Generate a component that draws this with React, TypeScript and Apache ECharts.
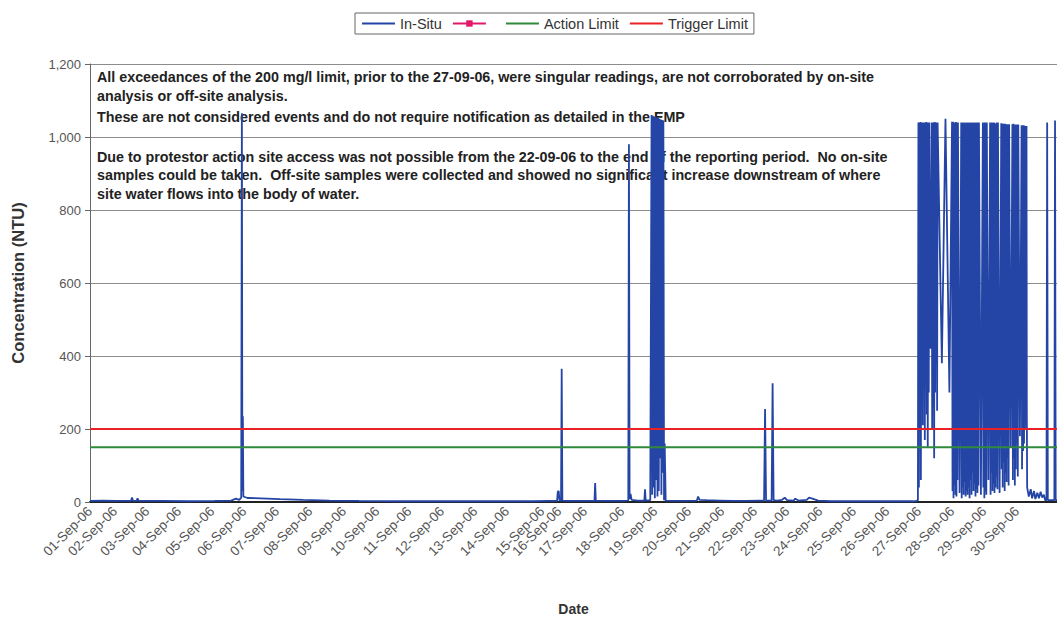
import React, { useEffect, useRef } from 'react';
import * as echarts from 'echarts';

const dateLabels = [
  '01-Sep-06', '02-Sep-06', '03-Sep-06', '04-Sep-06', '05-Sep-06', '06-Sep-06',
  '07-Sep-06', '08-Sep-06', '09-Sep-06', '10-Sep-06', '11-Sep-06', '12-Sep-06',
  '13-Sep-06', '14-Sep-06', '15-Sep-06', '16-Sep-06', '17-Sep-06', '18-Sep-06',
  '19-Sep-06', '20-Sep-06', '21-Sep-06', '22-Sep-06', '23-Sep-06', '24-Sep-06',
  '25-Sep-06', '26-Sep-06', '27-Sep-06', '28-Sep-06', '29-Sep-06', '30-Sep-06',
];

// category positions of the date labels along the sample axis (days, irregular)
const labelPositions = [
  0, 0.76, 1.74, 2.71, 3.72, 4.7, 5.7, 6.71, 7.74, 8.75, 9.73, 10.73, 11.74, 12.71,
  13.78, 14.3, 15.09, 16.22, 17.23, 18.26, 19.27, 20.27, 21.25, 22.26, 23.29,
  24.3, 25.27, 26.28, 27.26, 28.26,
];

const xMax = 29.48;

const inSitu: [number, number][] = [
  [0, 3], [0.4, 4], [0.8, 3], [1.25, 3], [1.28, 12], [1.31, 4], [1.42, 3], [1.45, 10], [1.48, 3],
  [2.2, 3], [3.0, 2], [3.8, 3], [4.3, 4], [4.45, 9], [4.55, 6], [4.61, 12], [4.63, 1065],
  [4.645, 30], [4.66, 235], [4.675, 15], [4.8, 11], [5.2, 10], [5.8, 8], [6.5, 6], [7.3, 4],
  [8.2, 3], [9.5, 2], [11, 2], [12.5, 2], [13.5, 2], [14.0, 3],
  [14.24, 3], [14.26, 28], [14.29, 30], [14.31, 5], [14.36, 4], [14.38, 365], [14.4, 4],
  [14.6, 3], [15.0, 3], [15.38, 3], [15.4, 52], [15.42, 3], [16.0, 3], [16.41, 4], [16.43, 980],
  [16.45, 8], [16.48, 22], [16.51, 6], [16.7, 4], [16.9, 4], [16.92, 35], [16.94, 4], [17.08, 5],
  [17.1, 5], [17.12, 1060], [17.14, 20], [17.16, 1058], [17.18, 40], [17.2, 1056], [17.22, 10],
  [17.24, 1055], [17.26, 60], [17.28, 1053], [17.3, 15], [17.32, 1052], [17.34, 30], [17.36, 1050],
  [17.38, 120], [17.4, 1048], [17.42, 20], [17.44, 1046], [17.46, 80], [17.48, 1045], [17.5, 5],
  [17.52, 160], [17.55, 4], [18.0, 3], [18.5, 4], [18.54, 15], [18.58, 6], [18.8, 5], [19.2, 4],
  [19.6, 3], [20.0, 3], [20.4, 4], [20.55, 4], [20.58, 255], [20.61, 4], [20.78, 4], [20.81, 325],
  [20.84, 5], [20.95, 4], [21.1, 6], [21.18, 12], [21.25, 5], [21.45, 4], [21.5, 9], [21.6, 4],
  [21.85, 6], [21.92, 12], [22.0, 10], [22.2, 4], [22.6, 2], [23.5, 2], [24.5, 2], [25.1, 2],
  [25.2, 3],
  [25.24, 5], [25.255, 1040], [25.27, 40], [25.285, 1040], [25.3, 300], [25.315, 1041], [25.33, 60],
  [25.345, 1040], [25.36, 460], [25.375, 1040], [25.39, 210], [25.405, 1040], [25.42, 380],
  [25.435, 1040], [25.45, 170], [25.465, 1040], [25.48, 330], [25.495, 1041], [25.51, 240],
  [25.525, 1040], [25.54, 150], [25.555, 1040], [25.57, 300], [25.585, 1040], [25.62, 420],
  [25.66, 1040], [25.675, 200], [25.69, 1040], [25.705, 260], [25.72, 1040], [25.735, 120],
  [25.75, 1041], [25.765, 300], [25.78, 1040], [25.795, 380], [25.81, 1040], [25.825, 250],
  [25.84, 1040], [25.86, 1040], [25.97, 380], [26.08, 1050], [26.1, 1050], [26.2, 300],
  [26.28, 1042], [26.295, 30], [26.31, 1042], [26.325, 10], [26.34, 1040], [26.355, 45],
  [26.37, 1040], [26.385, 20], [26.4, 1041], [26.415, 15], [26.43, 1040], [26.445, 60],
  [26.46, 1040], [26.51, 25], [26.56, 1040], [26.575, 10], [26.59, 1039], [26.605, 40],
  [26.62, 1040], [26.635, 20], [26.65, 1040], [26.665, 55], [26.68, 1038], [26.695, 15],
  [26.71, 1040], [26.725, 30], [26.74, 1040], [26.755, 20], [26.77, 1040], [26.785, 40],
  [26.8, 1038], [26.815, 10], [26.83, 1040], [26.845, 60], [26.86, 1040], [26.875, 20],
  [26.89, 1039], [26.905, 80], [26.92, 1040], [26.935, 30], [26.95, 1038], [26.965, 50],
  [26.98, 1040], [26.995, 15], [27.01, 1040], [27.025, 35], [27.04, 1040], [27.055, 25],
  [27.07, 1039], [27.085, 45], [27.1, 1040], [27.16, 20], [27.22, 1040], [27.235, 40],
  [27.25, 1038], [27.265, 10], [27.28, 1040], [27.295, 30], [27.31, 1040], [27.325, 20],
  [27.34, 1040], [27.39, 60], [27.44, 1040], [27.455, 20], [27.47, 1039], [27.485, 80],
  [27.5, 1040], [27.515, 30], [27.53, 1038], [27.545, 50], [27.56, 1040], [27.575, 25],
  [27.59, 1038], [27.605, 40], [27.62, 1037], [27.635, 70], [27.65, 1040], [27.665, 35],
  [27.68, 1040], [27.73, 25], [27.78, 1038], [27.795, 90], [27.81, 1037], [27.825, 40],
  [27.84, 1036], [27.855, 110], [27.87, 1036], [27.885, 30], [27.9, 1036], [27.915, 80],
  [27.93, 1035], [27.945, 55], [27.96, 1035], [27.975, 120], [27.99, 1035], [28.005, 45],
  [28.02, 1035], [28.07, 150], [28.12, 1035], [28.135, 60], [28.15, 1036], [28.165, 120],
  [28.18, 1034], [28.195, 45], [28.21, 1034], [28.225, 90], [28.24, 1034], [28.255, 160],
  [28.27, 1034], [28.285, 70], [28.3, 1034], [28.35, 180], [28.4, 1032], [28.415, 90],
  [28.43, 1032], [28.445, 140], [28.46, 1032], [28.475, 160], [28.49, 1031], [28.505, 200],
  [28.52, 1030], [28.535, 237], [28.55, 1030], [28.56, 237], [28.57, 40],
  [28.62, 15], [28.68, 35], [28.72, 10], [28.78, 30], [28.82, 8], [28.88, 25], [28.93, 10],
  [28.98, 28], [29.03, 12], [29.08, 20], [29.12, 5], [29.16, 5], [29.18, 1040], [29.2, 5],
  [29.3, 5], [29.4, 5], [29.42, 1045], [29.44, 5], [29.48, 5],
];

const actionLimit: [number, number][] = [[0, 150], [xMax, 150]];
const triggerLimit: [number, number][] = [[0, 200], [xMax, 200]];

const notes = [
  'All exceedances of the 200 mg/l limit, prior to the 27-09-06, were singular readings, are not corroborated by on-site',
  'analysis or off-site analysis.',
  'These are not considered events and do not require notification as detailed in the EMP',
  'Due to protestor action site access was not possible from the 22-09-06 to the end of the reporting period.  No on-site',
  'samples could be taken.  Off-site samples were collected and showed no significant increase downstream of where',
  'site water flows into the body of water.',
];

const FONT = 'Liberation Sans, Arial, Helvetica, sans-serif';

export default function App() {
  const ref = useRef<HTMLDivElement>(null);
  useEffect(() => {
    if (!ref.current) return;
    const chart = echarts.init(ref.current, undefined, { renderer: 'svg' });
    const noteY = [77, 96, 117, 157, 175, 194];
    const lineOnly = { itemStyle: { opacity: 0 } };
    const option: any = {
      animation: false,
      backgroundColor: '#ffffff',
      textStyle: { fontFamily: FONT },
      legend: {
        left: 355,
        top: 13,
        padding: [3, 6],
        itemGap: 10,
        itemWidth: 33,
        itemHeight: 8,
        borderColor: '#666',
        borderWidth: 1,
        textStyle: { fontSize: 14.5, color: '#333', fontFamily: FONT },
        data: [
          { name: 'In-Situ', ...lineOnly },
          { name: ' ' },
          { name: 'Action Limit', ...lineOnly },
          { name: 'Trigger Limit', ...lineOnly },
        ],
      },
      grid: { left: 90, right: 0, top: 64, bottom: 117, containLabel: false },
      xAxis: {
        type: 'value',
        min: 0,
        max: xMax,
        name: 'Date',
        nameLocation: 'middle',
        nameGap: 100,
        nameTextStyle: { fontSize: 14, fontWeight: 'bold', color: '#333', fontFamily: FONT },
        axisLine: { lineStyle: { color: '#222', width: 2 } },
        axisTick: { show: false },
        splitLine: { show: false },
        axisLabel: {
          customValues: labelPositions,
          rotate: 45,
          fontSize: 13.5,
          color: '#555',
          margin: 7,
          fontFamily: FONT,
          formatter: (v: number) => {
            let best = 0;
            for (let i = 0; i < labelPositions.length; i++) {
              if (Math.abs(labelPositions[i] - v) < Math.abs(labelPositions[best] - v)) best = i;
            }
            return dateLabels[best];
          },
        },
      },
      yAxis: {
        type: 'value',
        min: 0,
        max: 1200,
        interval: 200,
        name: 'Concentration (NTU)',
        nameLocation: 'middle',
        nameGap: 64,
        nameTextStyle: { fontSize: 16.5, fontWeight: 'bold', color: '#333', fontFamily: FONT },
        axisLine: { show: true, lineStyle: { color: '#666', width: 1 } },
        axisTick: { show: true, length: 5, lineStyle: { color: '#666' } },
        splitLine: { lineStyle: { color: '#8c8c8c', width: 1 } },
        axisLabel: {
          fontSize: 13,
          color: '#555',
          margin: 9,
          fontFamily: FONT,
          formatter: (v: number) => v.toLocaleString('en-US'),
        },
      },
      graphic: notes.map((t, i) => ({
        type: 'text',
        x: 97,
        y: noteY[i],
        z: 1,
        style: {
          text: t,
          fill: '#222',
          font: `bold 14.3px ${FONT}`,
          textVerticalAlign: 'middle',
        },
      })),
      series: [
        {
          name: 'In-Situ',
          type: 'line',
          data: inSitu,
          symbol: 'none',
          z: 3,
          lineStyle: { color: '#2445a5', width: 1.8 },
          itemStyle: { color: '#6f90d4' },
        },
        {
          name: ' ',
          type: 'line',
          data: [],
          symbol: 'rect',
          symbolSize: 6,
          lineStyle: { color: '#e3176a', width: 1.5 },
          itemStyle: { color: '#e3176a' },
        },
        {
          name: 'Action Limit',
          type: 'line',
          data: actionLimit,
          symbol: 'none',
          z: 4,
          lineStyle: { color: '#2f8a3c', width: 2 },
          itemStyle: { color: '#2f8a3c' },
        },
        {
          name: 'Trigger Limit',
          type: 'line',
          data: triggerLimit,
          symbol: 'none',
          z: 5,
          lineStyle: { color: '#ea2228', width: 2 },
          itemStyle: { color: '#ea2228' },
        },
      ],
    };
    chart.setOption(option);
    return () => chart.dispose();
  }, []);
  return (
    <div
      ref={ref}
      style={{ position: 'fixed', left: 0, top: 0, width: 1057, height: 621, background: '#fff' }}
    />
  );
}
